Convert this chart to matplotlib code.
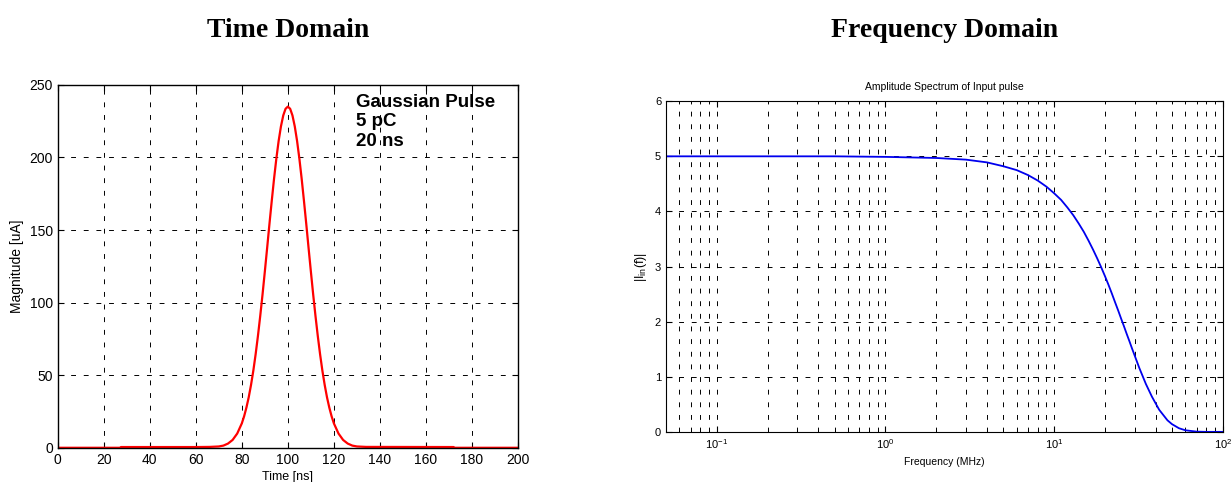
import matplotlib
matplotlib.use("Agg")
import matplotlib.pyplot as plt
from matplotlib.ticker import LogLocator, NullFormatter

plt.rcParams['font.family'] = ['Liberation Sans', 'DejaVu Sans']
plt.rcParams['mathtext.fontset'] = 'custom'
plt.rcParams['mathtext.rm'] = 'Liberation Sans'
plt.rcParams['mathtext.it'] = 'Liberation Sans:italic'

# time domain pulse
time_ns = [0, 27, 27.5, 60, 66, 70, 72, 74, 76, 78, 80, 81, 82, 83, 84, 85, 86, 87,
           88, 89, 90, 91, 92, 93, 94, 95, 96, 97, 98, 99, 100,
           101, 102, 103, 104, 105, 106, 107, 108, 109, 110, 111, 112, 113, 114,
           115, 116, 117, 118, 119, 120, 122, 124, 126, 128, 130, 134, 172, 172.5, 200]
current_ua = [0, 0, 0.5, 0.5, 0.6, 0.9, 1.5, 2.9, 5.4, 9.8, 16.8, 21.7, 27.7, 34.8,
              43.3, 53.1, 64.4, 77.0, 90.8, 105.6, 121.4, 137.6, 154.1, 170.0,
              185.3, 199.2, 211.4, 221.4, 228.9, 233.5, 235,
              233.5, 228.9, 221.4, 211.4, 199.2, 185.3, 170.0, 154.1, 137.6, 121.4,
              105.6, 90.8, 77.0, 64.4, 53.1, 43.3, 34.8, 27.7, 21.7, 16.8, 9.8,
              5.4, 2.9, 1.5, 0.9, 0.6, 0.5, 0, 0]

# amplitude spectrum
freq_mhz = [0.05, 0.1, 0.2, 0.5, 1, 2, 3, 4, 5, 6, 7, 8, 9, 10, 11, 12, 13, 14,
            15, 16, 17, 18, 19, 20, 21, 22, 23, 24, 25, 26, 27, 28, 29, 30, 32,
            35, 38, 42, 47, 50, 55, 60, 70, 80, 100]
spectrum = [5.0, 5.0, 5.0, 5.0, 4.99, 4.97, 4.94, 4.89, 4.82, 4.75, 4.66, 4.56,
            4.45, 4.33, 4.21, 4.07, 3.93, 3.78, 3.63, 3.47, 3.31, 3.15, 2.99,
            2.83, 2.67, 2.51, 2.35, 2.20, 2.05, 1.91, 1.77, 1.64, 1.51, 1.39,
            1.16, 0.87, 0.64, 0.40, 0.21, 0.14, 0.066, 0.029, 0.004, 0.0, 0.0]

GRID = dict(color='black', linestyle=(0, (5, 8)), linewidth=0.7)

fig = plt.figure(figsize=(12.32, 4.82), dpi=100)

fig.text(0.234, 0.937, "Time Domain", ha='center', va='center',
         fontsize=20, fontweight='bold', family='Liberation Serif')
fig.text(0.767, 0.937, "Frequency Domain", ha='center', va='center',
         fontsize=20, fontweight='bold', family='Liberation Serif')

# left: time domain
ax1 = fig.add_axes([0.0468, 0.071, 0.3737, 0.753])
ax1.plot(time_ns, current_ua, color='red', linewidth=1.6)
ax1.set_xlim(0, 200)
ax1.set_ylim(0, 250)
ax1.set_xticks(range(0, 201, 20))
ax1.set_yticks(range(0, 251, 50))
ax1.grid(True, **GRID)
ax1.tick_params(direction='in', top=True, right=True, labelsize=10, length=4)
ax1.set_xlabel("Time [ns]", fontsize=9, labelpad=3)
ax1.set_ylabel("Magnitude [uA]", fontsize=10)
ax1.text(129.5, 244, "Gaussian Pulse\n5 pC\n20 ns", fontsize=13.5,
         fontweight='bold', va='top', ha='left', linespacing=1.22)
for s in ax1.spines.values():
    s.set_linewidth(1.0)

# right: frequency domain
ax2 = fig.add_axes([0.5406, 0.104, 0.4519, 0.686])
ax2.semilogx(freq_mhz, spectrum, color='#0000ee', linewidth=1.3)
ax2.set_xlim(0.05, 100)
ax2.set_ylim(0, 6)
ax2.set_yticks(range(0, 7))
ax2.xaxis.set_major_locator(LogLocator(base=10, numticks=10))
ax2.xaxis.set_minor_locator(LogLocator(base=10, subs=range(2, 10), numticks=20))
ax2.xaxis.set_minor_formatter(NullFormatter())
ax2.grid(True, which='both', axis='x', **GRID)
ax2.grid(True, which='major', axis='y', **GRID)
ax2.tick_params(which='both', direction='in', top=True, right=True, labelsize=8)
ax2.tick_params(which='major', length=4)
ax2.tick_params(which='minor', length=2)
ax2.set_title("Amplitude Spectrum of Input pulse", fontsize=7.5, pad=8)
ax2.set_xlabel("Frequency (MHz)", fontsize=7.5, labelpad=5)
ax2.set_ylabel(r"$|\mathrm{I}_{\mathrm{in}}(\mathrm{f})|$", fontsize=9)

fig.savefig("out.png", dpi=100)
